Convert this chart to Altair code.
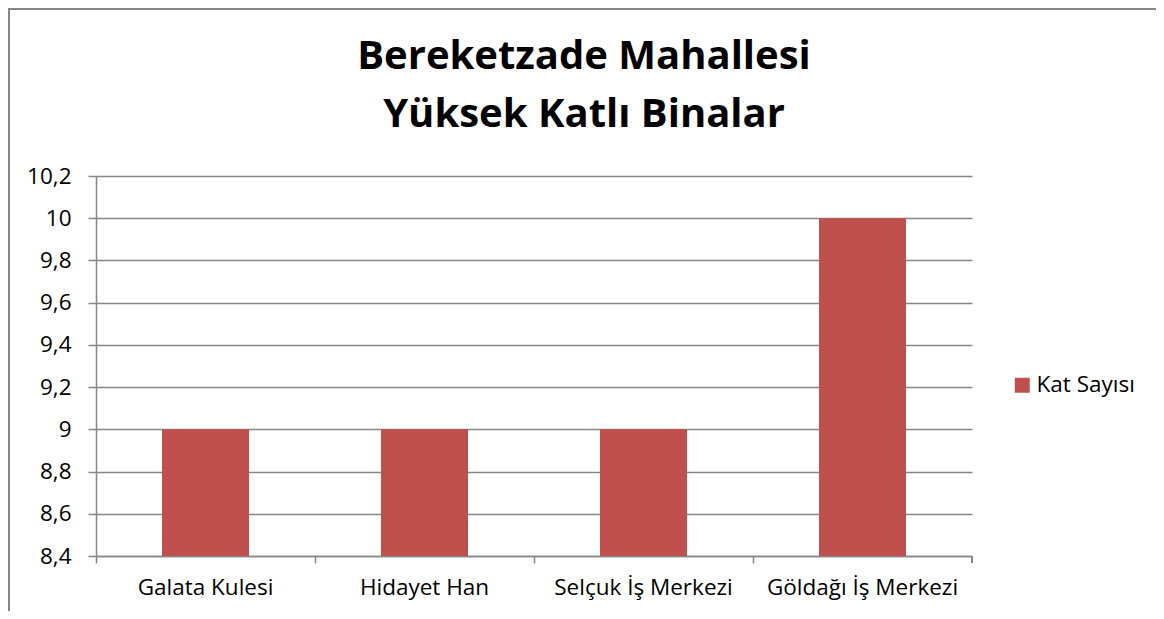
import altair as alt
import pandas as pd

categories = ["Galata Kulesi", "Hidayet Han", "Selçuk İş Merkezi", "Göldağı İş Merkezi"]
values = [9, 9, 9, 10]
series_name = "Kat Sayısı"
y_ticks = [8.4, 8.6, 8.8, 9.0, 9.2, 9.4, 9.6, 9.8, 10.0, 10.2]
title_lines = ["Bereketzade Mahallesi", "Yüksek Katlı Binalar"]

df = pd.DataFrame({"Bina": categories, "Kat": values, "Seri": [series_name] * len(categories)})
title_df = pd.DataFrame({"t": title_lines})

FONT = "Open Sans"
GRAY = "#868686"
W, H = 876, 380

bars = alt.Chart(df).mark_bar(size=87, color="#C0504D").encode(
    x=alt.X("Bina:N", sort=categories, title=None,
            scale=alt.Scale(paddingInner=0, paddingOuter=0),
            axis=alt.Axis(bandPosition=0, labelAngle=0, labelLimit=400,
                          labelFont=FONT, labelFontSize=22.5, labelColor="#000000",
                          labelPadding=13, tickSize=7, tickColor=GRAY, tickWidth=1.5,
                          domainColor=GRAY, domainWidth=1.5, grid=False)),
    y=alt.Y("Kat:Q", title=None,
            scale=alt.Scale(domain=[8.4, 10.2], zero=False, nice=False, clamp=True),
            axis=alt.Axis(values=y_ticks,
                          labelExpr="replace(format(datum.value, '.1~f'), '.', ',')",
                          labelFont=FONT, labelFontSize=22.5, labelColor="#000000",
                          labelPadding=17, tickSize=8, tickColor=GRAY, tickWidth=1.5,
                          domainColor=GRAY, domainWidth=1.5,
                          grid=True, gridColor=GRAY, gridWidth=1.5)),
    y2=alt.datum(8.4),
    fill=alt.Fill("Seri:N", scale=alt.Scale(range=["#C0504D"]),
                  legend=alt.Legend(title=None, orient="none", legendX=915, legendY=198,
                                    symbolType="square", symbolSize=225,
                                    symbolStrokeWidth=0, labelFont=FONT,
                                    labelFontSize=22.5, labelColor="#000000",
                                    labelOffset=3, labelLimit=300)),
)

end_tick = alt.Chart(df).mark_rule(color=GRAY, strokeWidth=1.5).encode(
    x=alt.value(W), y=alt.value(H), y2=alt.value(H + 7)
)

border = alt.Chart(df).mark_rect(fill="transparent", stroke=GRAY, strokeWidth=2).encode(
    x=alt.value(-87), x2=alt.value(1066), y=alt.value(-167), y2=alt.value(446)
)

title1 = alt.Chart(title_df).transform_filter(
    alt.datum.t == title_lines[0]
).mark_text(font=FONT, fontSize=40, fontWeight="bold", color="#000000",
            align="center", baseline="alphabetic").encode(
    text="t:N", x=alt.value(488), y=alt.value(-107)
)
title2 = alt.Chart(title_df).transform_filter(
    alt.datum.t == title_lines[1]
).mark_text(font=FONT, fontSize=40, fontWeight="bold", color="#000000",
            align="center", baseline="alphabetic").encode(
    text="t:N", x=alt.value(488), y=alt.value(-49)
)

chart = alt.layer(border, bars, end_tick, title1, title2).properties(
    width=W, height=H,
    autosize=alt.AutoSizeParams(type="none"),
    padding={"left": 88, "top": 168, "right": 184, "bottom": 55},
).configure_view(stroke=None)

chart.save("out.html", embed_options={"renderer": "svg", "actions": False})
